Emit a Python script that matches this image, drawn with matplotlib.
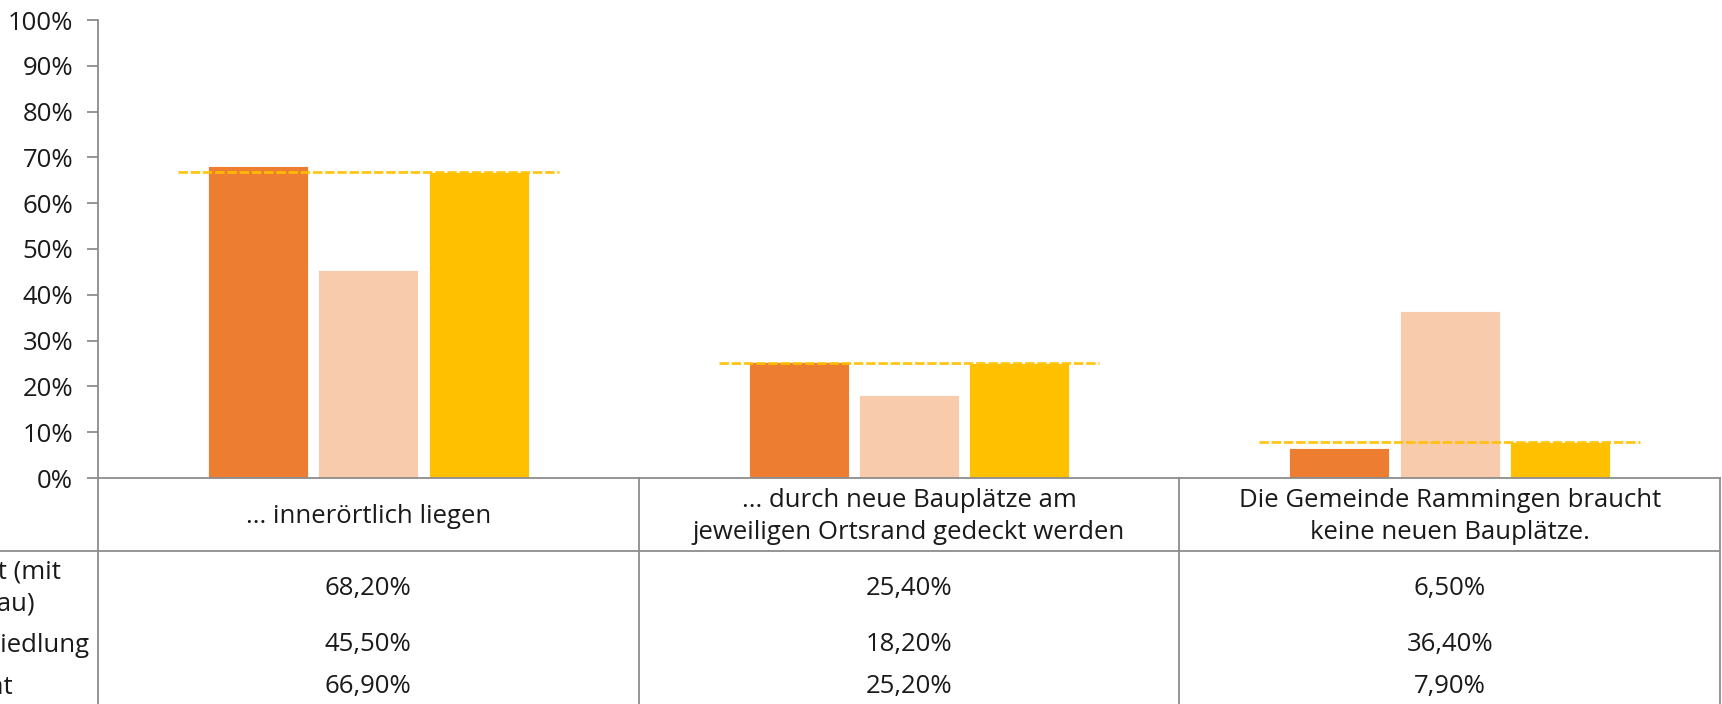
import numpy as np
import matplotlib
matplotlib.use("Agg")
import matplotlib.pyplot as plt

plt.rcParams['font.family'] = ['Open Sans', 'DejaVu Sans']

categories = ["... innerörtlich liegen",
              "... durch neue Bauplätze am\njeweiligen Ortsrand gedeckt werden",
              "Die Gemeinde Rammingen braucht\nkeine neuen Bauplätze."]
series_names = ["Kernort (mit\nLindenau)", "Aussiedlung", "Gesamt"]
ortskern = [68.2, 25.4, 6.5]
siedlung = [45.5, 18.2, 36.4]
gesamt = [66.9, 25.2, 7.9]
value_labels = [["68,20%", "25,40%", "6,50%"],
                ["45,50%", "18,20%", "36,40%"],
                ["66,90%", "25,20%", "7,90%"]]
yticks = [0, 10, 20, 30, 40, 50, 60, 70, 80, 90, 100]

colors = ["#ED7D31", "#F8CBAD", "#FFC000"]
grid_col = "#8C8C8C"
txt_col = "#1a1a1a"
fs = 18.5

W, H = 1722, 704
ax_left, ax_right, ax_top, ax_bottom = 98, 1720, 20, 478

fig = plt.figure(figsize=(W / 100, H / 100), dpi=100)
ax = fig.add_axes([ax_left / W, (H - ax_bottom) / H,
                   (ax_right - ax_left) / W, (ax_bottom - ax_top) / H])

x = np.arange(len(categories))
width = 0.185
step = 0.204
for i, vals in enumerate([ortskern, siedlung, gesamt]):
    ax.bar(x + (i - 1) * step, np.array(vals) / 100, width=width,
           color=colors[i], edgecolor="white", linewidth=0.6, zorder=2)

ax.hlines(np.array(gesamt) / 100, x - 0.352, x + 0.352, colors="#FFC000",
          linestyles=(0, (3.4, 1.0)), linewidth=2.0, zorder=3, alpha=0.9)

ax.set_xlim(-0.5, len(categories) - 0.5)
ax.set_ylim(0, 1)
ax.set_yticks(np.array(yticks) / 100)
ax.set_yticklabels([f"{t}%" for t in yticks], fontsize=fs, color=txt_col)
ax.set_xticks([])
for s in ["top", "right"]:
    ax.spines[s].set_visible(False)
for s in ["left", "bottom"]:
    ax.spines[s].set_color(grid_col)
    ax.spines[s].set_linewidth(1.3)
ax.tick_params(axis="y", length=8, width=1.3, color=grid_col, pad=10)

# data table
unit_px = (ax_right - ax_left) / len(categories)
tab = fig.add_axes([0, 0, ax_right / W, (H - ax_bottom) / H])
xl = -0.5 - ax_left / unit_px
tab.set_xlim(xl, len(categories) - 0.5)
tab.set_ylim(H, ax_bottom)
tab.axis("off")

header_bottom = 551
for b in np.arange(len(categories) + 1) - 0.5:
    tab.plot([b, b], [ax_bottom, H], color=grid_col, lw=1.3, clip_on=False)
tab.plot([xl, len(categories) - 0.5], [header_bottom, header_bottom],
         color=grid_col, lw=1.3)

for i, c in enumerate(categories):
    tab.text(i, (ax_bottom + header_bottom) / 2 + 2, c, ha="center", va="center",
             fontsize=fs, color=txt_col, linespacing=1.42)

row_y = [588, 645, 687]
label_right_px = [61, 89, 13]
for r in range(3):
    for i in range(len(categories)):
        tab.text(i, row_y[r], value_labels[r][i], ha="center", va="center",
                 fontsize=fs, color=txt_col)
    tab.text(xl + label_right_px[r] / unit_px, row_y[r], series_names[r],
             ha="right", va="center", multialignment="left",
             fontsize=fs, color=txt_col, linespacing=1.42)

fig.savefig("out.png", dpi=100)
